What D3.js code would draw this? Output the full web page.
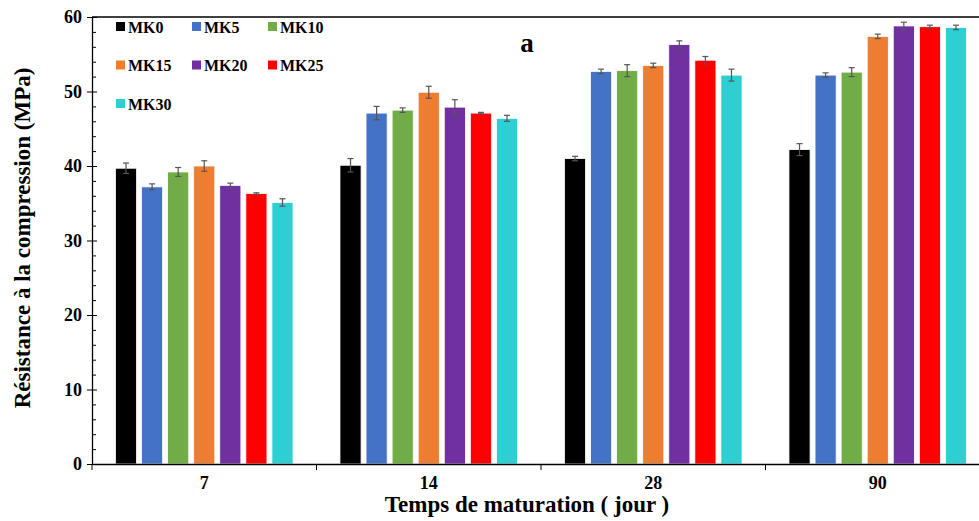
<!DOCTYPE html>
<html>
<head>
<meta charset="utf-8">
<script src="https://cdn.jsdelivr.net/npm/d3@7"></script>
<style>
  body { margin: 0; background: #fff; }
  text { font-family: "Liberation Serif", "Times New Roman", serif; font-weight: bold; }
</style>
</head>
<body>
<svg id="chart" width="979" height="521"></svg>
<script>
// data
var days = ["7", "14", "28", "90"];
var series = ["MK0", "MK5", "MK10", "MK15", "MK20", "MK25", "MK30"];
var colors = ["#000000", "#4472c4", "#70ad47", "#ed7d31", "#7030a0", "#ff0000", "#2ecfd2"];
var MK0  = [39.7, 40.1, 41.0, 42.2];
var MK5  = [37.2, 47.1, 52.7, 52.2];
var MK10 = [39.2, 47.5, 52.8, 52.6];
var MK15 = [40.0, 49.9, 53.5, 57.4];
var MK20 = [37.4, 47.9, 56.3, 58.8];
var MK25 = [36.3, 47.1, 54.2, 58.7];
var MK30 = [35.1, 46.4, 52.2, 58.6];
var err0  = [0.7, 0.9, 0.3, 0.8];
var err5  = [0.4, 0.9, 0.3, 0.3];
var err10 = [0.6, 0.3, 0.8, 0.6];
var err15 = [0.7, 0.8, 0.3, 0.3];
var err20 = [0.3, 1.0, 0.5, 0.5];
var err25 = [0.1, 0.1, 0.5, 0.2];
var err30 = [0.5, 0.4, 0.8, 0.3];
var yTicks = [0, 10, 20, 30, 40, 50, 60];

var values = [MK0, MK5, MK10, MK15, MK20, MK25, MK30];
var errors = [err0, err5, err10, err15, err20, err25, err30];

var svg = d3.select("#chart");
var mLeft = 92, mRight = 990, mTop = 17, mBottom = 464;

var x0 = d3.scaleBand().domain(days).range([mLeft, mRight]).paddingInner(0).paddingOuter(0);
var x1 = d3.scaleBand().domain(series).range([0, x0.bandwidth()]).paddingInner(0.19).paddingOuter(0.9);
var y = d3.scaleLinear().domain([0, 60]).range([mBottom, mTop]);

// bars
var groups = svg.selectAll("g.day").data(days).enter().append("g")
  .attr("class", "day")
  .attr("transform", function (d) { return "translate(" + x0(d) + ",0)"; });

groups.each(function (d, i) {
  var g = d3.select(this);
  series.forEach(function (s, j) {
    var v = values[j][i], e = errors[j][i];
    var bx = x1(s), bw = x1.bandwidth();
    g.append("rect")
      .attr("x", bx).attr("y", y(v))
      .attr("width", bw).attr("height", y(0) - y(v))
      .attr("fill", colors[j])
      .attr("stroke", "#fff").attr("stroke-width", 0.8);
    var cx = bx + bw / 2;
    g.append("line").attr("x1", cx).attr("x2", cx)
      .attr("y1", y(v - e)).attr("y2", y(v + e))
      .attr("stroke", "#555").attr("stroke-width", 1.2);
    [v - e, v + e].forEach(function (t) {
      g.append("line").attr("x1", cx - 3).attr("x2", cx + 3)
        .attr("y1", y(t)).attr("y2", y(t))
        .attr("stroke", "#555").attr("stroke-width", 1.2);
    });
  });
});

// y axis: major ticks crossing, minor ticks inside
var yAxis = svg.append("g").attr("transform", "translate(" + mLeft + ",0)")
  .call(d3.axisLeft(y).tickValues(yTicks).tickSize(5).tickSizeOuter(0));
yAxis.select(".domain").attr("stroke", "#000").attr("stroke-width", 1.3);
yAxis.selectAll(".tick line").attr("x2", 5).attr("x1", -5).attr("stroke", "#000");
yAxis.selectAll(".tick text").attr("x", -10).style("font-size", "18px")
  .style("font-family", "Liberation Serif").style("font-weight", "bold");
svg.append("g").attr("transform", "translate(" + mLeft + ",0)")
  .call(d3.axisRight(y).tickValues(d3.range(0, 61, 2).filter(function (v) { return v % 10 !== 0; }))
    .tickSize(4).tickFormat(""))
  .select(".domain").remove();

// x axis
var xAxis = svg.append("g").attr("transform", "translate(0," + mBottom + ")")
  .call(d3.axisBottom(x0).tickSize(0).tickSizeOuter(0));
xAxis.select(".domain").attr("stroke", "#000").attr("stroke-width", 1.3);
xAxis.selectAll(".tick text").attr("y", 12).style("font-size", "18px")
  .style("font-family", "Liberation Serif").style("font-weight", "bold");
svg.append("g").selectAll("line").data(days).enter().append("line")
  .attr("x1", function (d) { return x0(d); }).attr("x2", function (d) { return x0(d); })
  .attr("y1", mBottom).attr("y2", mBottom + 6).attr("stroke", "#000");

// top frame line
svg.append("line").attr("x1", mLeft).attr("x2", mRight).attr("y1", mTop).attr("y2", mTop)
  .attr("stroke", "#000").attr("stroke-width", 1.3);

// titles
svg.append("text").attr("x", 527).attr("y", 512)
  .attr("text-anchor", "middle").style("font-size", "23px")
  .text("Temps de maturation ( jour )");
svg.append("text").attr("transform", "translate(30,238) rotate(-90)")
  .attr("text-anchor", "middle").style("font-size", "23px")
  .text("Résistance à la compression (MPa)");
svg.append("text").attr("x", 527).attr("y", 52).attr("text-anchor", "middle")
  .style("font-size", "27px").text("a");

// legend
var legend = svg.append("g");
series.forEach(function (s, j) {
  var lx = 116 + (j % 3) * 76, ly = 27 + Math.floor(j / 3) * 38.5;
  legend.append("rect").attr("x", lx).attr("y", ly - 5).attr("width", 9).attr("height", 9)
    .attr("fill", colors[j]);
  legend.append("text").attr("x", lx + 12).attr("y", ly + 5.5)
    .style("font-size", "16px").text(s);
});
</script>
</body>
</html>
